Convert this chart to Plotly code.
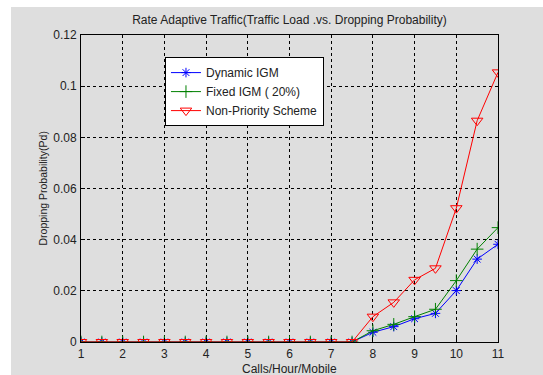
import plotly.graph_objects as go

# Traffic load (calls/hour/mobile)
load = [1, 1.5, 2, 2.5, 3, 3.5, 4, 4.5, 5, 5.5, 6, 6.5, 7, 7.5,
        8, 8.5, 9, 9.5, 10, 10.5, 11]

# Dropping probability for each scheme
dynamic_igm = [0] * 14 + [0.0038, 0.0060, 0.0091, 0.0112, 0.0201, 0.0324, 0.0382]
fixed_igm = [0] * 14 + [0.0044, 0.0069, 0.0099, 0.0128, 0.0240, 0.0363, 0.0447]
non_priority = [0] * 14 + [0.0099, 0.0155, 0.0243, 0.0288, 0.0523, 0.0865, 0.1054]

x_ticks = [1, 2, 3, 4, 5, 6, 7, 8, 9, 10, 11]
y_ticks = [0, 0.02, 0.04, 0.06, 0.08, 0.1, 0.12]
y_tick_text = ["0", "0.02", "0.04", "0.06", "0.08", "0.1", "0.12"]

FONT = "Liberation Sans, Arial, sans-serif"
TEXT = "#222"

fig = go.Figure()
fig.add_trace(go.Scatter(
    x=load, y=dynamic_igm, mode="lines+markers", name="Dynamic IGM",
    line=dict(color="#0000ff", width=1),
    marker=dict(symbol="asterisk-open", size=8, color="#0000ff",
                line=dict(color="#0000ff", width=1)),
))
fig.add_trace(go.Scatter(
    x=load, y=fixed_igm, mode="lines+markers", name="Fixed IGM ( 20%)",
    line=dict(color="#008000", width=1),
    marker=dict(symbol="cross-thin-open", size=9, color="#008000",
                line=dict(color="#008000", width=1)),
))
fig.add_trace(go.Scatter(
    x=load, y=non_priority, mode="lines+markers", name="Non-Priority Scheme",
    line=dict(color="#ff0000", width=1),
    marker=dict(symbol="triangle-down-open", size=10, color="#ff0000",
                line=dict(color="#ff0000", width=1)),
))

# Grey figure panel behind the axes
fig.add_shape(type="rect", xref="paper", yref="paper",
              x0=-0.1679, x1=1.11, y0=-0.11, y1=1.0912,
              fillcolor="#dedede", line=dict(width=0), layer="below")

axis_common = dict(
    showline=True, linecolor="black", linewidth=1, mirror=True,
    ticks="inside", ticklen=4, tickcolor="black",
    showgrid=True, gridcolor="black", gridwidth=1, griddash="3px,3px",
    zeroline=False, automargin=False,
    tickfont=dict(family=FONT, size=12, color=TEXT),
)

fig.update_xaxes(range=[1, 11], tickvals=x_ticks, ticklabelstandoff=1,
                 **axis_common)
fig.update_yaxes(range=[0, 0.12], tickvals=y_ticks, ticktext=y_tick_text,
                 ticklabelstandoff=1, **axis_common)

# Axis labels placed as paper-anchored annotations
fig.add_annotation(text="Calls/Hour/Mobile", xref="paper", yref="paper",
                   x=0.5, y=-0.087, xanchor="center", yanchor="middle",
                   showarrow=False, borderpad=0,
                   font=dict(family=FONT, size=12, color=TEXT))
fig.add_annotation(text="Dropping Probability(Pd)", xref="paper", yref="paper",
                   x=-0.0935, y=0.5, xanchor="center", yanchor="middle",
                   textangle=-90, showarrow=False, borderpad=0,
                   font=dict(family=FONT, size=10.5, color=TEXT))

fig.update_layout(
    width=543, height=375,
    margin=dict(l=81, r=45, t=35, b=33),
    paper_bgcolor="white", plot_bgcolor="white",
    title=dict(text="Rate Adaptive Traffic(Traffic Load .vs. Dropping Probability)",
               x=(81 + 498) / 2 / 543, xanchor="center", y=1 - 20 / 375, yanchor="middle",
               font=dict(family=FONT, size=12, color=TEXT)),
    legend=dict(x=0.2014, y=0.928, xanchor="left", yanchor="top",
                bgcolor="white", bordercolor="black", borderwidth=1,
                font=dict(family=FONT, size=12, color=TEXT),
                tracegroupgap=0, itemwidth=30),
    showlegend=True,
)

fig.write_html("out.html")
